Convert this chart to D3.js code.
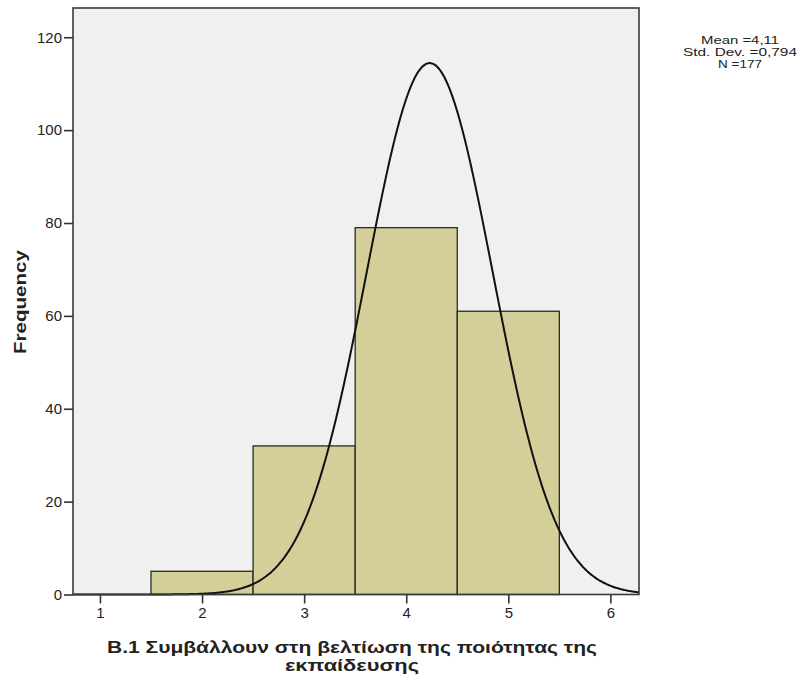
<!DOCTYPE html>
<html>
<head>
<meta charset="utf-8">
<script src="https://cdn.jsdelivr.net/npm/d3@7"></script>
<style>
  html, body { margin: 0; padding: 0; background: #fff; }
  svg { display: block; }
  text { font-family: "Liberation Sans", Arial, sans-serif; fill: #222; }
</style>
</head>
<body>
<script>
// Histogram bins: centre of each bin and its frequency
const binCenters = [1, 2, 3, 4, 5];
const frequencies = [0, 5, 32, 79, 61];
const binWidth = 1;

// Fitted normal curve drawn over the bars
const curveCenter = 4.23;
const curveSpread = 0.617;
const totalN = 177;

// Axis ticks
const xTicks = [1, 2, 3, 4, 5, 6];
const yTicks = [0, 20, 40, 60, 80, 100, 120];

// Summary box lines
const statLines = ["Mean =4,11", "Std. Dev. =0,794", "N =177"];
const statWidths = [78, 114, 44];

const xTitleLines = ["B.1 Συμβάλλουν στη βελτίωση της ποιότητας της", "εκπαίδευσης"];
const yTitle = "Frequency";

const W = 801, H = 680;
const plot = { left: 73, right: 639, top: 8, bottom: 594.5 };

const svg = d3.select("body").append("svg")
  .attr("width", W).attr("height", H);

const x = d3.scaleLinear().domain([0.736, 6.28]).range([plot.left, plot.right]);
const y = d3.scaleLinear().domain([0, 126.3]).range([plot.bottom, plot.top]);

// plot background
svg.append("rect")
  .attr("x", plot.left).attr("y", plot.top)
  .attr("width", plot.right - plot.left).attr("height", plot.bottom - plot.top)
  .attr("fill", "#f0f0f0");

// bars
const bins = binCenters.map((c, i) => ({ c, f: frequencies[i] })).filter(d => d.f > 0);
svg.append("g").selectAll("rect").data(bins).join("rect")
  .attr("x", d => x(d.c - binWidth / 2))
  .attr("y", d => y(d.f))
  .attr("width", d => x(d.c + binWidth / 2) - x(d.c - binWidth / 2))
  .attr("height", d => y(0) - y(d.f))
  .attr("fill", "#d4cf98")
  .attr("stroke", "#2a2a22")
  .attr("stroke-width", 1.3);

// normal curve
const dens = v => totalN * binWidth / (curveSpread * Math.sqrt(2 * Math.PI)) *
  Math.exp(-((v - curveCenter) ** 2) / (2 * curveSpread * curveSpread));
const xs = d3.range(0, 401).map(i => 0.736 + (6.28 - 0.736) * i / 400);
svg.append("path")
  .datum(xs)
  .attr("d", d3.line().x(v => x(v)).y(v => y(dens(v))).curve(d3.curveBasis))
  .attr("fill", "none")
  .attr("stroke", "#111")
  .attr("stroke-width", 2);

// frame
svg.append("rect")
  .attr("x", plot.left).attr("y", plot.top)
  .attr("width", plot.right - plot.left).attr("height", plot.bottom - plot.top)
  .attr("fill", "none")
  .attr("stroke", "#3a3a3a")
  .attr("stroke-width", 1.6);

// axes
const yAxis = d3.axisLeft(y).tickValues(yTicks).tickSize(9).tickPadding(2).tickFormat(d3.format("d"));
const gy = svg.append("g").attr("transform", `translate(${plot.left},0)`).call(yAxis);
gy.select(".domain").remove();
gy.selectAll(".tick line").attr("stroke", "#333").attr("stroke-width", 1.6);
gy.selectAll(".tick text").style("font-family", '"Liberation Sans", Arial, sans-serif')
  .style("font-size", "15px").attr("fill", "#222");

const xAxis = d3.axisBottom(x).tickValues(xTicks).tickSize(9).tickPadding(4).tickFormat(d3.format("d"));
const gx = svg.append("g").attr("transform", `translate(0,${plot.bottom})`).call(xAxis);
gx.select(".domain").remove();
gx.selectAll(".tick line").attr("stroke", "#333").attr("stroke-width", 1.6);
gx.selectAll(".tick text").style("font-family", '"Liberation Sans", Arial, sans-serif')
  .style("font-size", "15px").attr("fill", "#222");

// axis titles
svg.append("text")
  .attr("transform", "translate(26,302) rotate(-90)")
  .attr("text-anchor", "middle")
  .attr("textLength", 104).attr("lengthAdjust", "spacingAndGlyphs")
  .style("font-size", "17px").style("font-weight", "bold")
  .text(yTitle);

const xTitleY = [653, 671];
const xTitleLen = [490, 134];
xTitleLines.forEach((t, i) => {
  svg.append("text")
    .attr("x", 352).attr("y", xTitleY[i])
    .attr("text-anchor", "middle")
    .attr("textLength", xTitleLen[i]).attr("lengthAdjust", "spacingAndGlyphs")
    .style("font-size", "16px").style("font-weight", "bold")
    .text(t);
});

// summary statistics
svg.append("g").selectAll("text").data(statLines).join("text")
  .attr("x", 740).attr("y", (d, i) => 44 + i * 12)
  .attr("text-anchor", "middle")
  .attr("textLength", (d, i) => statWidths[i]).attr("lengthAdjust", "spacingAndGlyphs")
  .style("font-size", "10.5px")
  .text(d => d);
</script>
</body>
</html>
